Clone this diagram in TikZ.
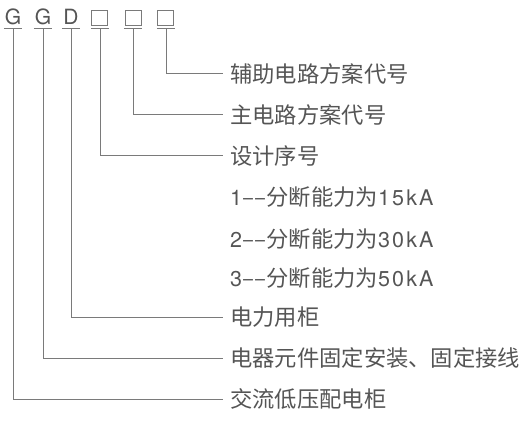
\documentclass[tikz,border=0pt]{standalone}
\usepackage{fontspec}
\setmainfont{Noto Sans CJK SC}
\newfontfamily\latn{TeX Gyre Heros}
\newfontfamily\latnw[LetterSpace=10]{TeX Gyre Heros}
\definecolor{txt}{HTML}{555555}
\definecolor{ln}{HTML}{7A7A7A}
\tikzset{
  code/.style={anchor=south, inner sep=0pt, minimum width=18pt, minimum height=23pt, text=txt, font=\latn\fontsize{21}{21}\selectfont},
  uline/.style={draw=ln, line width=1pt},
  sq/.style={draw=ln, line width=1pt, inner sep=0pt, minimum width=16pt, minimum height=15pt},
  desc/.style={anchor=west, inner xsep=7pt, inner ysep=0pt, text=txt, font=\fontsize{22.3}{22.3}\selectfont},
  conn/.style={draw=ln, line width=1pt},
}
\newcommand{\dd}{\textendash\kern0.5pt\textendash}
\newcommand{\lt}[1]{{\latnw\fontsize{21.5}{21.5}\selectfont #1}}
\begin{document}
\begin{tikzpicture}[x=1pt,y=-1pt]
\useasboundingbox (0,0) rectangle (530,433);
% code letters
\node[code] (c1) at (13,29) {G};
\node[code] (c2) at (43,29) {G};
\node[code] (c3) at (71,29) {D};
\node[code] (c4) at (100,29) {};
\node[code] (c5) at (133,29) {};
\node[code] (c6) at (166,29) {};
\node[sq] (s4) at (99,18.5) {};
\node[sq] (s5) at (133,18.5) {};
\node[sq] (s6) at (165.5,18.5) {};
\foreach \i in {1,...,6} {\draw[uline] (c\i.south west) -- (c\i.south east);}
% descriptions
\node[desc] (t1) at (223,74) {辅助电路方案代号};
\node[desc] (t2) at (223,115) {主电路方案代号};
\node[desc] (t3) at (223,156) {设计序号};
\node[desc] (t4) at (223,197) {\lt{1}\dd 分断能力为\lt{15kA}};
\node[desc] (t5) at (223,239) {\lt{2}\dd 分断能力为\lt{30kA}};
\node[desc] (t6) at (223,278) {\lt{3}\dd 分断能力为\lt{50kA}};
\node[desc] (t7) at (223,317) {电力用柜};
\node[desc] (t8) at (223,358) {电器元件固定安装、固定接线};
\node[desc] (t9) at (223,399) {交流低压配电柜};
% connectors
\draw[conn] (c6.south) |- (t1.west);
\draw[conn] (c5.south) |- (t2.west);
\draw[conn] (c4.south) |- (t3.west);
\draw[conn] (c3.south) |- (t7.west);
\draw[conn] (c2.south) |- (t8.west);
\draw[conn] (c1.south) |- (t9.west);
\end{tikzpicture}
\end{document}
